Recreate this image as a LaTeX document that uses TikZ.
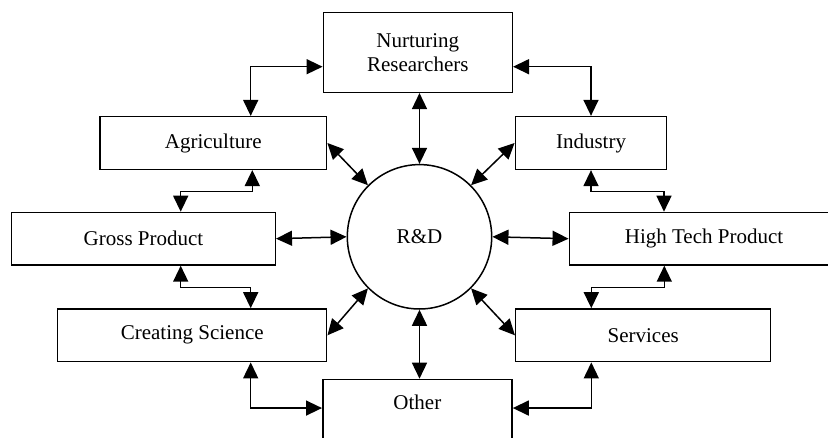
\documentclass[tikz,border=0pt]{standalone}
\usepackage{fontspec}
\setmainfont{Liberation Serif}
\usetikzlibrary{arrows.meta,calc}

\tikzset{
  box/.style={draw, line width=1.5pt, rectangle, inner sep=0pt, align=center,
              font=\fontsize{21}{24}\selectfont},
  hub/.style={draw, line width=1.5pt, circle, inner sep=0pt, minimum size=144.4pt,
              font=\fontsize{21}{24}\selectfont},
  lbl/.style={inner sep=0pt, font=\fontsize{21}{24}\selectfont},
  dbl/.style={line width=1.5pt, line join=miter,
              {Triangle[length=16pt,width=15pt]}-{Triangle[length=16pt,width=15pt]}}
}

\begin{document}
\begin{tikzpicture}[x=1pt,y=-1pt]
  \useasboundingbox (0,0) rectangle (828,437);
  \clip (0,0) rectangle (828,437);

  % central hub
  \node[hub] (rd) at (419.5,236.8) {R\&D};

  % surrounding blocks
  \node[box, minimum width=189pt,   minimum height=80pt]   (nurt)  at (417.8,52.3)  {Nurturing\\Researchers};
  \node[box, minimum width=226.7pt, minimum height=52.6pt] (agri)  at (213.3,143)   {Agriculture};
  \node[box, minimum width=151.4pt, minimum height=52.8pt] (ind)   at (591,143)     {Industry};
  \node[box, minimum width=263.6pt, minimum height=52.5pt] (gross) at (143.5,238.7) {Gross Product};
  \node[box, minimum width=269.4pt, minimum height=52.5pt] (htp)   at (704,238.7)   {High Tech Product};
  \node[box, minimum width=269pt,   minimum height=52.7pt] (crs)   at (192.2,335.3) {Creating Science};
  \node[box, minimum width=255pt,   minimum height=52.7pt] (serv)  at (643.2,335.3) {Services};
  \node[box, minimum width=189.3pt, minimum height=80pt, anchor=north] (other) at (417.4,378.7) {};
  \node[lbl, anchor=base] (otherlbl) at ($(other.north)+(0,30.6)$) {Other};

  % spokes from the hub
  \draw[dbl] (rd.north |- nurt.south) -- (rd.north);
  \draw[dbl] (rd.south) -- (rd.south |- other.north);
  \draw[dbl] (agri.east) -- (rd.135);
  \draw[dbl] (ind.west) -- (rd.45);
  \draw[dbl] (gross.east) -- (rd.west);
  \draw[dbl] (htp.west) -- (rd.east);
  \draw[dbl] (crs.east) -- (rd.225);
  \draw[dbl] (serv.west) -- (rd.315);

  % ring of elbow links
  \draw[dbl] ([yshift=-14.4pt]nurt.west) -| ([xshift=37.4pt]agri.north);
  \draw[dbl] ([yshift=-14.4pt]nurt.east) -| (ind.north);
  \draw[dbl] ([xshift=39pt]agri.south) -- ++(0,21.4) -| ([xshift=37.2pt]gross.north);
  \draw[dbl] (ind.south) -- ++(0,21.4) -| ([xshift=-40pt]htp.north);
  \draw[dbl] ([xshift=37.2pt]gross.south) -- ++(0,21.7) -| ([xshift=58.5pt]crs.north);
  \draw[dbl] ([xshift=-39.7pt]htp.south) -- ++(0,21.7) -| ([xshift=-51.9pt]serv.north);
  \draw[dbl] ([xshift=58.5pt]crs.south) |- ([yshift=11.4pt]other.west);
  \draw[dbl] ([xshift=-51.9pt]serv.south) |- ([yshift=11.4pt]other.east);
\end{tikzpicture}
\end{document}
